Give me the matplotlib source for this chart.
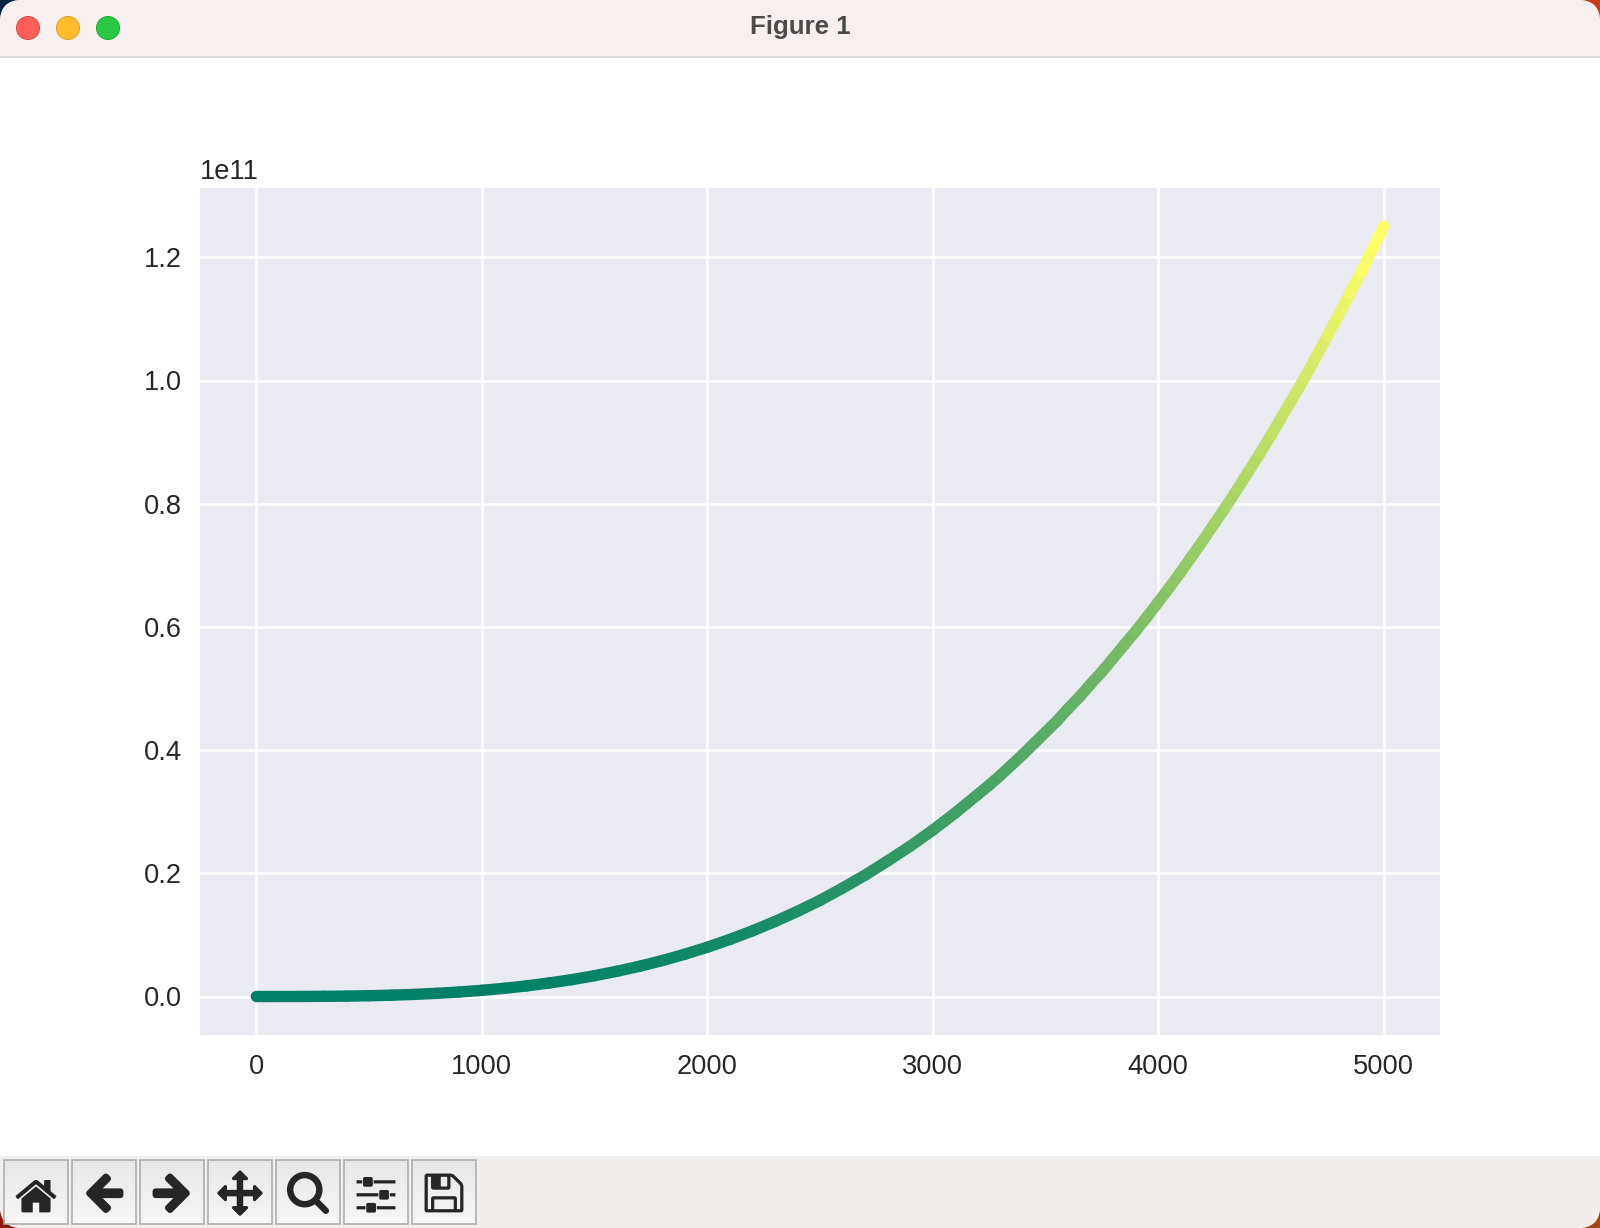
# cubic growth curve in a mac figure window, coloured by value

import os
import numpy as np
import matplotlib
matplotlib.use('Agg')
import matplotlib.pyplot as plt
from matplotlib.collections import LineCollection
from matplotlib.patches import FancyBboxPatch, Rectangle, Circle

# values
x_values = [0, 100, 200, 300, 400, 500, 600, 700, 800, 900,
            1000, 1100, 1200, 1300, 1400, 1500, 1600, 1700, 1800, 1900,
            2000, 2100, 2200, 2300, 2400, 2500, 2600, 2700, 2800, 2900,
            3000, 3050, 3100, 3150, 3200, 3250, 3300, 3350, 3400, 3450,
            3500, 3550, 3600, 3650, 3700, 3750, 3800, 3850, 3900, 3950,
            4000, 4050, 4100, 4150, 4200, 4250, 4300, 4350, 4400, 4450,
            4500, 4550, 4600, 4650, 4700, 4750, 4800, 4850, 4900, 4950, 5000]
y_values = [0e9, 0.001e9, 0.008e9, 0.027e9, 0.064e9, 0.125e9, 0.216e9, 0.343e9, 0.512e9, 0.729e9,
            1.0e9, 1.33e9, 1.73e9, 2.2e9, 2.74e9, 3.38e9, 4.1e9, 4.91e9, 5.83e9, 6.86e9,
            8.0e9, 9.26e9, 10.65e9, 12.17e9, 13.82e9, 15.6e9, 17.6e9, 19.7e9, 22.0e9, 24.4e9,
            27.0e9, 28.4e9, 29.8e9, 31.3e9, 32.8e9, 34.3e9, 35.9e9, 37.6e9, 39.3e9, 41.1e9,
            42.9e9, 44.7e9, 46.7e9, 48.6e9, 50.7e9, 52.7e9, 54.9e9, 57.1e9, 59.3e9, 61.6e9,
            64.0e9, 66.4e9, 68.9e9, 71.5e9, 74.1e9, 76.8e9, 79.5e9, 82.3e9, 85.2e9, 88.1e9,
            91.1e9, 94.2e9, 97.3e9, 100.5e9, 103.8e9, 107.2e9, 110.6e9, 114.1e9, 117.6e9, 121.3e9, 125.0e9]
x_ticks = [0, 1000, 2000, 3000, 4000, 5000]
y_ticks = [0, 0.2e11, 0.4e11, 0.6e11, 0.8e11, 1.0e11, 1.2e11]
toolbar_icons = ['home', 'back', 'forward', 'move', 'zoom_to_rect', 'subplots', 'filesave']

W = 1600
H = 1228
plt.rcParams['font.family'] = ['Liberation Sans', 'DejaVu Sans']
fig = plt.figure(figsize=(W / 100, H / 100), dpi=100, facecolor='white')

# window chrome, drawn in pixel coordinates
chrome = fig.add_axes([0, 0, 1, 1], zorder=0)
chrome.set_xlim(0, W)
chrome.set_ylim(H, 0)
chrome.axis('off')
chrome.add_patch(Rectangle((0, 0), 40, 40, fc='#0b2440', ec='none'))
chrome.add_patch(Rectangle((W - 40, 0), 40, 40, fc='#c63f18', ec='none'))
chrome.add_patch(Rectangle((0, H - 40), 40, 40, fc='#8c1c10', ec='none'))
chrome.add_patch(Rectangle((W - 40, H - 40), 40, 40, fc='#a8440f', ec='none'))
window = FancyBboxPatch((0, 0), W, H, boxstyle='round,pad=0,rounding_size=22', fc='white', ec='none')
chrome.add_patch(window)
titlebar = Rectangle((0, 0), W, 56, fc='#f8f0ee', ec='none')
chrome.add_patch(titlebar)
titlebar.set_clip_path(window)
chrome.add_patch(Rectangle((0, 56), W, 1.5, fc='#dcdcdc', ec='none'))
toolbar = Rectangle((0, 1156), W, H - 1156, fc='#f2eeeb', ec='none')
chrome.add_patch(toolbar)
toolbar.set_clip_path(window)
for cx, fc, ec in [(28, '#ff5f57', '#e0443e'), (68, '#ffbd2e', '#dea123'), (108, '#28c940', '#1aab29')]:
    chrome.add_patch(Circle((cx, 28), 11.5, fc=fc, ec=ec, lw=0.7))
chrome.text(800, 27, 'Figure 1', ha='center', va='center', fontsize=18.6,
            fontweight='bold', color='#4a4a4a')

# toolbar buttons with matplotlib's own icons
gradient = np.linspace(0, 1, 64).reshape(-1, 1)
for i, name in enumerate(toolbar_icons):
    left = 4 + 68 * i
    chrome.imshow(gradient, extent=(left, left + 64, 1224, 1160), cmap='gray', vmin=-14.5, vmax=1.6,
                  aspect='auto', origin='upper', zorder=2)
    chrome.add_patch(Rectangle((left, 1160), 64, 64, fc='none', ec='#aaaaaa', lw=1.1, zorder=3))
    icon = plt.imread(os.path.join(matplotlib.get_data_path(), 'images', name + '_large.png')).copy()
    icon[..., :3] = np.maximum(icon[..., :3], 0.15)
    chrome.imshow(icon, extent=(left + 8, left + 56, 1216, 1168), aspect='auto', origin='upper', zorder=4)
chrome.set_xlim(0, W)
chrome.set_ylim(H, 0)

# the chart itself
ax = fig.add_axes([200 / W, 1 - 1035 / H, 1240 / W, 847 / H], zorder=1)
ax.set_facecolor('#eaeaf2')
for spine in ax.spines.values():
    spine.set_visible(False)
ax.grid(True, color='white', lw=1.9)
ax.set_axisbelow(True)

x = np.array(x_values)
y = np.array(y_values)
points = np.column_stack([x, y])
segments = np.stack([points[:-1], points[1:]], axis=1)
curve = LineCollection(segments, cmap='summer', linewidths=8.2, capstyle='round', zorder=3)
curve.set_array(y[1:])
curve.set_clim(y.min(), y.max())
ax.add_collection(curve)

ax.set_xlim(-250, 5250)
ax.set_ylim(-0.0625e11, 1.3125e11)
ax.set_xticks(x_ticks)
ax.set_yticks(y_ticks)
ax.tick_params(length=0, labelsize=19.6, labelcolor='#262626', pad=14)
ax.tick_params(axis='y', pad=13)
ax.yaxis.OFFSETTEXTPAD = 6.5
ax.yaxis.get_offset_text().set_fontsize(19.6)
ax.yaxis.get_offset_text().set_color('#262626')

fig.savefig('out.png', dpi=100)
